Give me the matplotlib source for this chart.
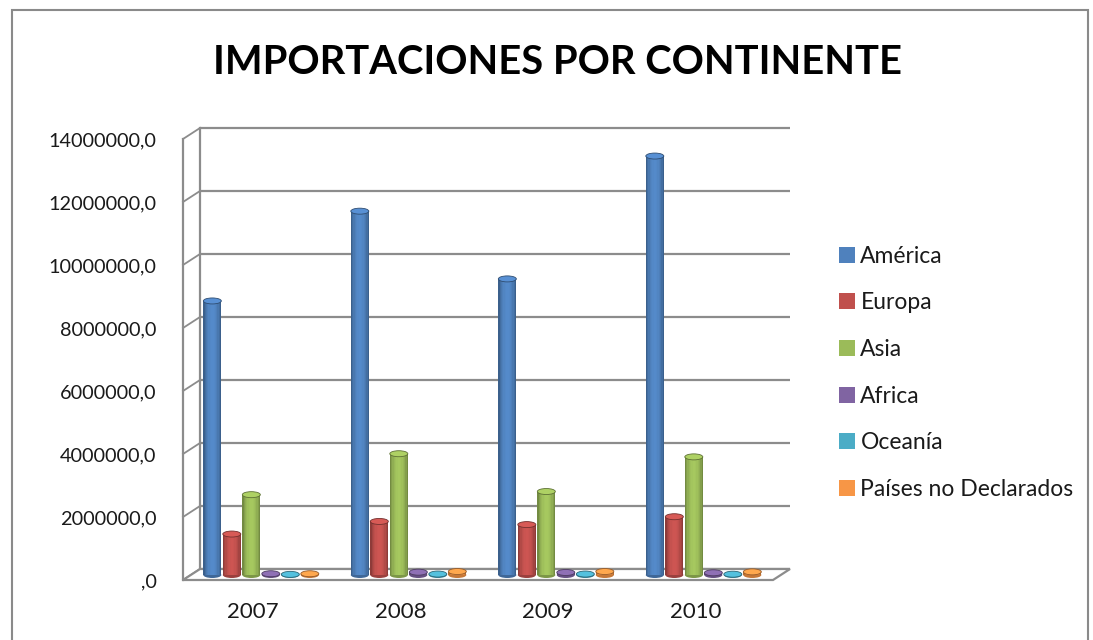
import numpy as np
import matplotlib.pyplot as plt
from matplotlib.patches import Ellipse, Polygon, Patch, Rectangle
from matplotlib.colors import to_rgb
from matplotlib.ticker import FuncFormatter

# datos
YEARS = ["2007", "2008", "2009", "2010"]
SERIES = ["América", "Europa", "Asia", "Africa", "Oceanía", "Países no Declarados"]
AMERICA = [8700000, 11550000, 9400000, 13300000]
EUROPA = [1300000, 1700000, 1600000, 1850000]
ASIA = [2550000, 3850000, 2650000, 3750000]
AFRICA = [40000, 90000, 80000, 70000]
OCEANIA = [20000, 30000, 30000, 25000]
NO_DECLARADOS = [40000, 110000, 110000, 100000]
YTICKS = [0, 2000000, 4000000, 6000000, 8000000, 10000000, 12000000, 14000000]

COLORS = ["#4F81BD", "#C0504D", "#9BBB59", "#8064A2", "#4BACC6", "#F79646"]
GRID = "#8c8c8c"
INK = "#1a1a1a"

plt.rcParams["font.family"] = ["Lato", "DejaVu Sans"]

W, H, DPI = 1093, 640, 100
fig = plt.figure(figsize=(W / DPI, H / DPI), dpi=DPI)
fig.patch.set_facecolor("white")

# área de trazado (plano frontal), en píxeles
AX_L, AX_R, AX_T, AX_B = 183, 773, 139, 580
ax = fig.add_axes([AX_L / W, 1 - AX_B / H, (AX_R - AX_L) / W, (AX_B - AX_T) / H])
XMIN, XMAX, YMAX = -0.475, 3.525, 14000000
ax.set_xlim(XMIN, XMAX)
ax.set_ylim(0, YMAX)
ax.patch.set_alpha(0)

px_x = (AX_R - AX_L) / (XMAX - XMIN)
px_y = (AX_B - AX_T) / YMAX


def dx(p):
    return p / px_x


def dy(p):
    return p / px_y


# profundidad 3D: pared trasera y barras a media profundidad
BACK_X, BACK_Y = dx(17), dy(11)
MID_X, MID_Y = dx(8), dy(5)

# pared trasera + líneas de división
for v in YTICKS:
    ax.plot([XMIN + BACK_X, XMAX + BACK_X], [v + BACK_Y] * 2, color=GRID, lw=1.6,
            clip_on=False, zorder=1, solid_capstyle="butt")
    ax.plot([XMIN, XMIN + BACK_X], [v, v + BACK_Y], color=GRID, lw=1.3,
            clip_on=False, zorder=1)
ax.plot([XMIN + BACK_X] * 2, [BACK_Y, YMAX + BACK_Y], color=GRID, lw=1.6,
        clip_on=False, zorder=1)

# suelo
floor = Polygon([[XMIN, 0], [XMAX, 0], [XMAX + BACK_X, BACK_Y], [XMIN + BACK_X, BACK_Y]],
                closed=True, facecolor="white", edgecolor=GRID, lw=1.6, zorder=1.5,
                clip_on=False)
ax.add_patch(floor)

# cilindros
data = [AMERICA, EUROPA, ASIA, AFRICA, OCEANIA, NO_DECLARADOS]
x = np.arange(len(YEARS))
step = 19.5 / px_x
bw = 18 / px_x
n_strips = 14
ell_h = dy(6)
t = (np.arange(n_strips) + 0.5) / n_strips
shade = 0.62 + 0.45 * np.sin(np.pi * t) ** 0.6

for i, (vals, c) in enumerate(zip(data, COLORS)):
    base = np.array(to_rgb(c))
    dark = base * 0.6
    top = np.clip(base * 1.12, 0, 1)
    for j, v in enumerate(vals):
        cx = x[j] + (i - 2.5) * step + MID_X
        left = cx - bw / 2
        # fondo redondeado
        ax.add_patch(Ellipse((cx, MID_Y), bw, ell_h, facecolor=base * 0.8,
                             edgecolor="none", zorder=3, clip_on=False))
        for k in range(n_strips):
            col = np.clip(base * shade[k], 0, 1)
            ax.bar(left + (k + 0.5) * bw / n_strips, v, width=bw / n_strips * 1.02,
                   bottom=MID_Y, color=col, lw=0, zorder=3.1, clip_on=False)
        ax.add_patch(Ellipse((cx, v + MID_Y), bw, ell_h, facecolor=top,
                             edgecolor=dark, lw=0.6, zorder=3.2, clip_on=False))

# ejes
for s in ["top", "right", "bottom"]:
    ax.spines[s].set_visible(False)
ax.spines["left"].set_color(GRID)
ax.spines["left"].set_linewidth(1.6)


def fmt(v, _):
    s = f"{v:.1f}".replace(".", ",")
    return s[1:] if s.startswith("0,") else s


ax.set_yticks(YTICKS)
ax.yaxis.set_major_formatter(FuncFormatter(fmt))
ax.set_xticks(x)
ax.set_xticklabels(YEARS)
ax.tick_params(axis="y", length=0, pad=19, labelsize=14.3, labelcolor=INK)
ax.tick_params(axis="x", length=0, pad=16, labelsize=16, labelcolor=INK)

# título
fig.text(557 / W, 1 - 62 / H, "IMPORTACIONES POR CONTINENTE", ha="center", va="center",
         fontsize=28.7, fontweight="bold", color="black")

# leyenda
handles = [Patch(facecolor=c, edgecolor="none") for c in COLORS]
fig.legend(handles, SERIES, loc="upper left", bbox_to_anchor=(818 / W, 1 - 225 / H),
           frameon=False, fontsize=16.5, handlelength=0.7, handleheight=0.7,
           handletextpad=0.25, labelspacing=1.12, labelcolor=INK)

# marco del gráfico
fig.add_artist(Rectangle((12 / W, -0.05), (1088 - 12) / W, 1.05 - 10 / H,
                         transform=fig.transFigure, fill=False, edgecolor="#8a8a8a", lw=1.5))

fig.savefig("out.png", dpi=DPI)
